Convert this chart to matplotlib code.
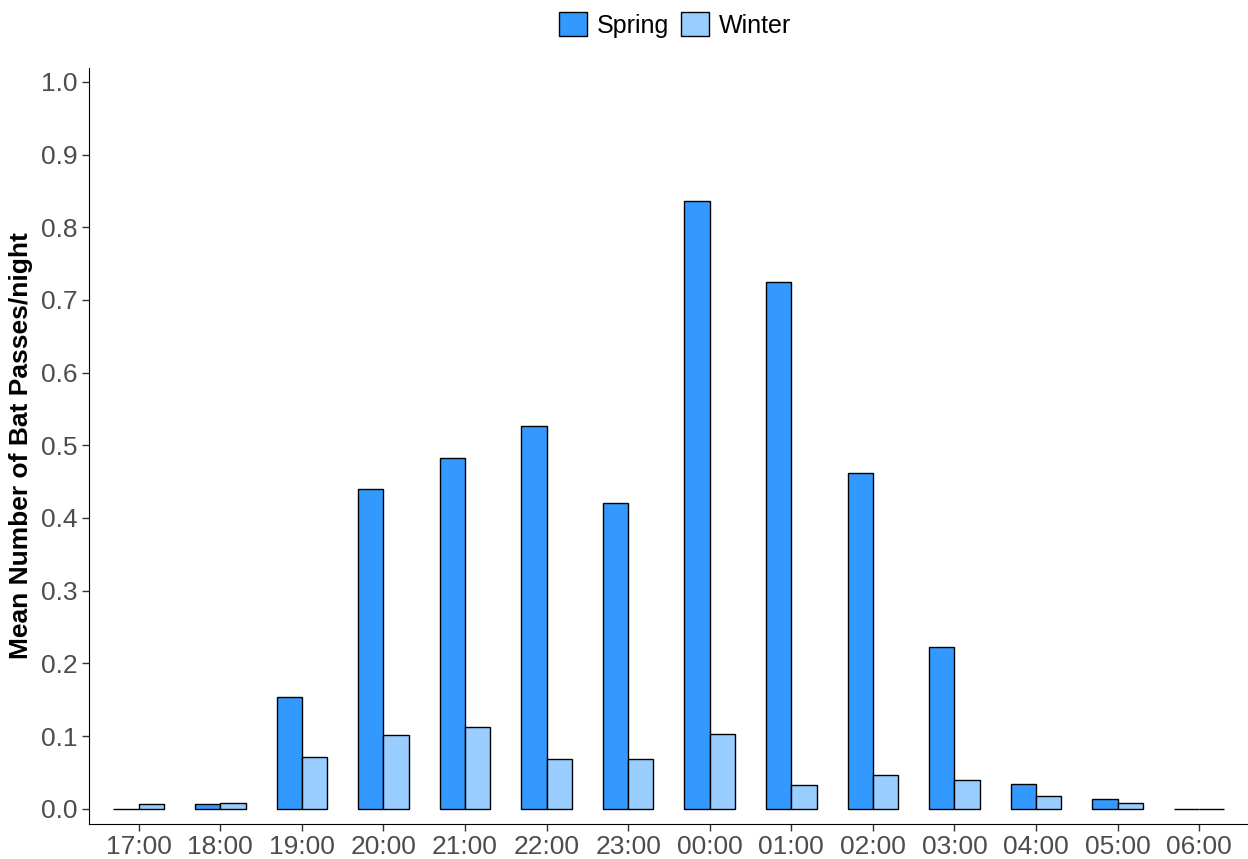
import matplotlib
matplotlib.use('Agg')
import matplotlib.pyplot as plt
from matplotlib.patches import Patch
import numpy as np

# hours on the x axis
hours = ['17:00', '18:00', '19:00', '20:00', '21:00', '22:00', '23:00',
         '00:00', '01:00', '02:00', '03:00', '04:00', '05:00', '06:00']
# mean bat passes per night
spring = [0.0, 0.006, 0.154, 0.440, 0.483, 0.527, 0.421,
          0.836, 0.725, 0.462, 0.223, 0.034, 0.013, 0.0]
winter = [0.007, 0.008, 0.071, 0.102, 0.113, 0.069, 0.069,
          0.103, 0.032, 0.047, 0.039, 0.018, 0.008, 0.0]
yticks = [0.0, 0.1, 0.2, 0.3, 0.4, 0.5, 0.6, 0.7, 0.8, 0.9, 1.0]

plt.rcParams['font.family'] = ['Liberation Sans', 'DejaVu Sans']

fig = plt.figure(figsize=(12.48, 8.59), dpi=100)
ax = fig.add_axes([89/1248, 35/859, 1 - 89/1248, (824-68)/859])

x = np.arange(len(hours))
width = 0.31
ax.bar(x - width/2, spring, width, color='#3399FF', edgecolor='black', linewidth=1)
ax.bar(x + width/2, winter, width, color='#99CCFF', edgecolor='black', linewidth=1)

ax.set_xlim(-0.61, 13.6)
ax.set_ylim(-0.021, 1.019)
ax.set_xticks(x)
ax.set_xticklabels(hours)
ax.set_yticks(yticks)
ax.set_yticklabels([f'{v:.1f}' for v in yticks])
ax.tick_params(axis='both', labelsize=19, labelcolor='#4D4D4D', color='#333333',
               length=5, width=1, pad=3)

ax.spines['top'].set_visible(False)
ax.spines['right'].set_visible(False)
ax.spines['left'].set_color('black')
ax.spines['bottom'].set_color('black')

ax.set_ylabel('Mean Number of Bat Passes/night', fontsize=19, fontweight='bold', labelpad=6)

# legend at top
handles = [Patch(facecolor='#3399FF', edgecolor='black', linewidth=1, label='Spring'),
           Patch(facecolor='#99CCFF', edgecolor='black', linewidth=1, label='Winter')]
fig.legend(handles=handles, loc='upper center', bbox_to_anchor=(675/1248, 1.012),
           ncol=2, frameon=False, fontsize=18, handlelength=1.1, handleheight=1.1,
           handletextpad=0.4, columnspacing=0.5)

plt.savefig('out.png', dpi=100)
